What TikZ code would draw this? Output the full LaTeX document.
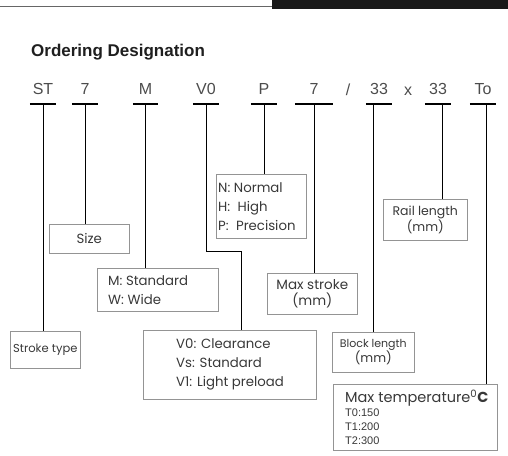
\documentclass[tikz,border=0pt]{standalone}
\usepackage{fontspec}
\setmainfont{Poppins}
\newfontfamily\titlefont{Liberation Sans}
\newfontfamily\codefont{Liberation Sans}
\begin{document}
\begin{tikzpicture}[x=1pt,y=-1pt,
  lbox/.style={draw=black!42, line width=0.6pt, rectangle, anchor=north west, inner sep=0pt, text=black!78, align=center},
  ltext/.style={anchor=west, inner sep=0pt, align=left, text=black!78},
  code/.style={anchor=south, inner xsep=0pt, inner ysep=9pt, text height=12pt, text depth=0pt, text=black!70, font=\codefont\fontsize{16}{16}\selectfont},
  sep/.style={anchor=base, inner sep=0pt, text=black!70, font=\codefont\fontsize{16}{16}\selectfont},
  uline/.style={line width=1.1pt},
  conn/.style={line width=0.9pt},
  lab/.style={font=\fontsize{13.3}{19}\selectfont}]
\useasboundingbox (0,0) rectangle (508,455);
% header
\draw[black!60, line width=0.8pt] (0,6) -- (272,6);
\fill[black!90] (272,0) rectangle (508,8.5);
% title
\node[anchor=base west, inner sep=0pt, text=black!88, font=\titlefont\bfseries\fontsize{17}{17}\selectfont] (title) at (31,56) {Ordering Designation};
% codes
\node[code, minimum width=26] (c1) at (43,104) {ST};
\node[code, minimum width=26] (c2) at (85,104) {7};
\node[code, minimum width=25] (c3) at (145.5,104) {M};
\node[code, minimum width=26] (c4) at (206,104) {V0};
\node[code, minimum width=26] (c5) at (264,104) {P};
\node[code, minimum width=38] (c6) at (314,104) {7};
\node[sep] (slash) at (348,95) {/};
\node[code, minimum width=26] (c7) at (379,104) {33};
\node[sep] (times) at (408,95) {x};
\node[code, minimum width=26] (c8) at (438,104) {33};
\node[code, minimum width=26] (c9) at (483,104) {To};
\foreach \c in {c1,c2,c3,c4,c5,c6,c7,c8,c9}
  \draw[uline] (\c.south west) -- (\c.south east);
% boxes
\node[lbox, minimum width=70, minimum height=37, font=\fontsize{11.5}{14}\selectfont] (stroke) at (10,331) {Stroke type};
\node[lbox, minimum width=80, minimum height=29, lab] (size) at (49,224) {Size};
\node[lbox, minimum width=121, minimum height=43] (mw) at (97,268) {};
\node[ltext, lab] (mwt) at ([xshift=11]mw.west) {M: Standard\\W: Wide};
\node[lbox, minimum width=90, minimum height=64] (nhp) at (216,174) {};
\node[ltext, lab] (nhpt) at ([xshift=2]nhp.west) {N: Normal\\H:\hspace{0.55em}High\\P:\hspace{0.55em}Precision};
\node[lbox, minimum width=173, minimum height=69] (v0) at (143,330) {};
\node[ltext, lab] (v0t) at ([xshift=33]v0.west) {V0: Clearance\\Vs: Standard\\V1: Light preload};
\node[lbox, minimum width=90, minimum height=41, font=\fontsize{13.5}{16}\selectfont] (maxs) at (267,273) {Max stroke\\(mm)};
\node[lbox, minimum width=82, minimum height=40, font=\fontsize{12.5}{15}\selectfont] (block) at (332,332) {{\fontsize{11}{13}\selectfont Block length}\\(mm)};
\node[lbox, minimum width=84, minimum height=41, font=\fontsize{12.5}{16}\selectfont] (rail) at (383,199) {Rail length\\(mm)};
\node[lbox, minimum width=164, minimum height=66] (temp) at (333,384) {};
\node[ltext, font=\codefont\fontsize{11}{14}\selectfont] (tempt) at ([xshift=12]temp.west) {{\rmfamily\fontsize{14.5}{15}\selectfont Max temperature\textsuperscript{0}\textbf{C}}\\T0:150\\T1:200\\T2:300};
% connectors
\coordinate (v0bend) at (241,251);
\coordinate (t8) at ([xshift=4]c8.south);
\coordinate (t9) at ([xshift=3]c9.south);
\draw[conn] (c1.south) -- (c1.south |- stroke.north);
\draw[conn] (c2.south) -- (c2.south |- size.north);
\draw[conn] (c3.south) -- (c3.south |- mw.north);
\draw[conn] (c4.south) |- (v0bend) -- (v0bend |- v0.north);
\draw[conn] (c5.south) -- (c5.south |- nhp.north);
\draw[conn] (c6.south) -- (c6.south |- maxs.north);
\draw[conn] (block.north |- c7.south) -- (block.north);
\draw[conn] (t8) -- (t8 |- rail.north);
\draw[conn] (t9) -- (t9 |- temp.north);
\end{tikzpicture}
\end{document}
